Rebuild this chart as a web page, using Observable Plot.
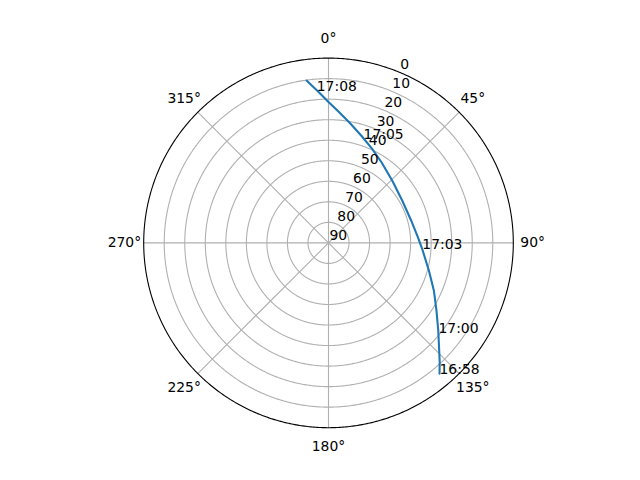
<!DOCTYPE html>
<html><head><meta charset="utf-8">
<script src="https://cdn.jsdelivr.net/npm/d3@7"></script>
<script src="https://cdn.jsdelivr.net/npm/@observablehq/plot@0.6"></script>
<style>html,body{margin:0;padding:0;background:#fff} svg{display:block}</style>
</head><body><div id="chart"></div>
<script>
// Satellite pass track: azimuth (deg, clockwise from N) and elevation (deg)
const trackAz = [139.7, 134.2, 128.6, 122.0, 114.3, 105.4, 93.6, 86.3, 74.8, 60.1, 45.6, 33.3, 24.9, 17.2, 10.5, 4.8, 0.1, 355.9, 352.3];
const trackEl = [6.4, 14.8, 21.6, 28.0, 33.7, 39.3, 44.3, 46.4, 48.3, 48.6, 46.6, 43.0, 39.5, 35.5, 31.0, 26.3, 21.5, 15.8, 10.2];

// Time labels along the track
const labelTimes = ["16:58", "17:00", "17:03", "17:05", "17:08"];
const labelAz = [139.7, 129.4, 93.8, 18.6, 355.6];
const labelEl = [6.4, 20.7, 44.2, 36.5, 15.6];

// Axis ticks
const thetaTicks = [0, 45, 90, 135, 180, 225, 270, 315];
const rTicks = [0, 10, 20, 30, 40, 50, 60, 70, 80, 90];
const rLabelAngle = 22.5;

// azimuth (clockwise from north) -> projection longitude
const lon = az => 180 - az;

const track = trackAz.map((a, i) => ({az: a, el: trackEl[i]}));
const labels = labelTimes.map((t, i) => ({t, az: labelAz[i], el: labelEl[i]}));

const horizon = d3.geoCircle().center([0, 90]).radius(90).precision(0.5)();
const rings = rTicks.filter(e => e > 0 && e < 90)
  .map(e => d3.geoCircle().center([0, 90]).radius(90 - e).precision(0.5)());

const FS = 13.9;
const chart = Plot.plot({
  width: 640,
  height: 480,
  marginLeft: 143.2,
  marginRight: 127.2,
  marginTop: 57.6,
  marginBottom: 52.8,
  projection: {type: "azimuthal-equidistant", rotate: [0, -90], domain: horizon, clip: false},
  style: {fontFamily: "DejaVu Sans", fontSize: FS + "px", background: "white", color: "black", overflow: "visible"},
  marks: [
    Plot.geo(rings, {fill: "none", stroke: "#b0b0b0", strokeWidth: 1.1}),
    Plot.link(thetaTicks, {x1: d => lon(d), y1: 90, x2: d => lon(d), y2: 0, stroke: "#b0b0b0", strokeWidth: 1.1}),
    Plot.geo(horizon, {fill: "none", stroke: "black", strokeWidth: 1.1}),
    Plot.line(track, {x: d => lon(d.az), y: "el", stroke: "#1f77b4", strokeWidth: 2.08}),
    Plot.text(labels, {x: d => lon(d.az), y: "el", text: "t", textAnchor: "start", lineAnchor: "bottom", fill: "black", fontSize: FS}),
    Plot.text(rTicks, {x: () => lon(rLabelAngle), y: d => d, text: d => String(d), textAnchor: "start", lineAnchor: "bottom", dy: -3.3, dx: 1, fill: "black", fontSize: FS}),
    Plot.text(thetaTicks, {x: d => lon(d), y: () => -9.4, text: d => d + "°", textAnchor: "middle", lineAnchor: "middle", fill: "black", fontSize: FS})
  ]
});
document.getElementById("chart").appendChild(chart);
</script>
</body></html>
